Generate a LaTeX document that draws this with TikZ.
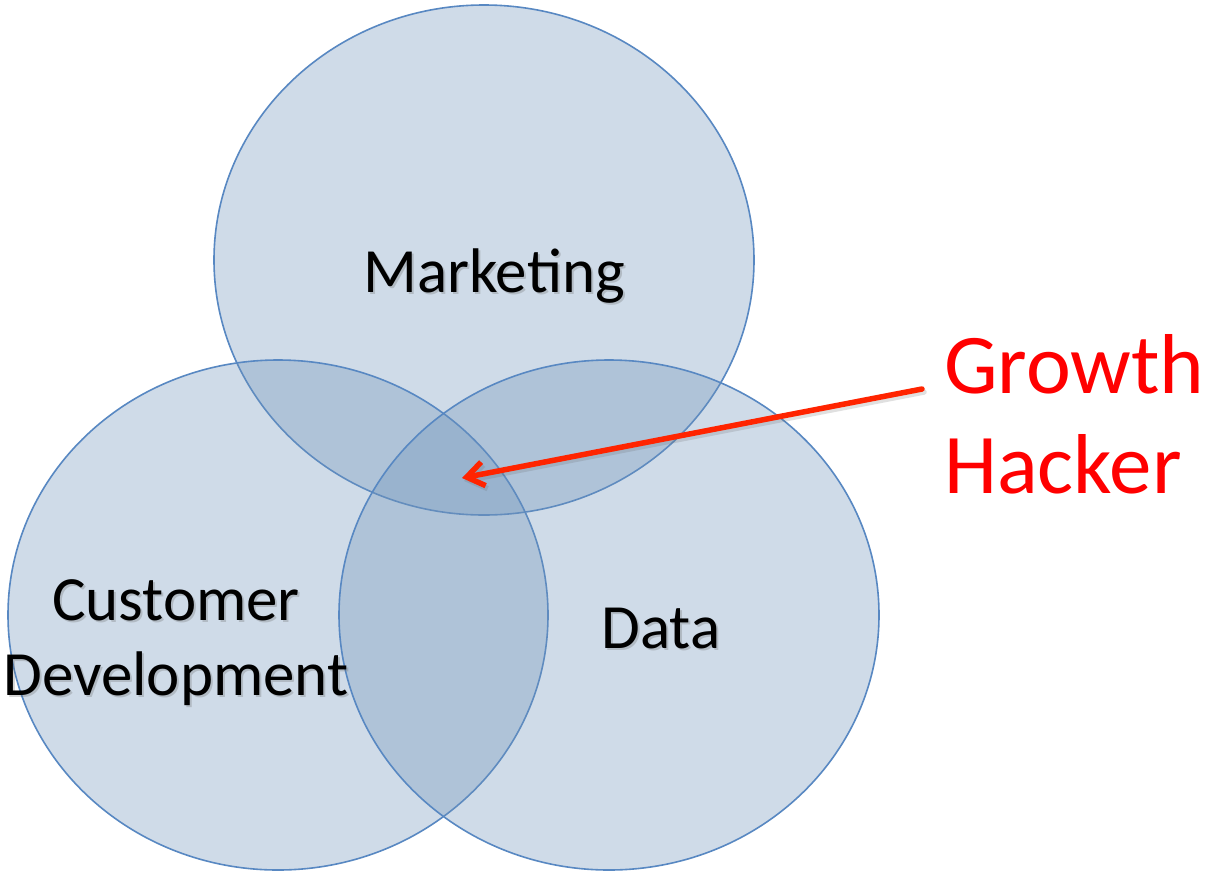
\documentclass[tikz,border=0pt]{standalone}
\usepackage{fontspec}
\setmainfont{Carlito}
\usetikzlibrary{shapes.geometric,arrows.meta}
\definecolor{vfill}{RGB}{111,148,186}
\definecolor{vline}{RGB}{88,136,194}
\definecolor{arrowred}{RGB}{255,36,0}
\definecolor{txtred}{RGB}{255,0,0}
\tikzset{
  venn/.style={ellipse, minimum width=540pt, minimum height=510pt, inner sep=0pt,
    draw=vline, line width=1.6pt, fill=vfill, fill opacity=0.33, draw opacity=1},
  lbl/.style={font=\fontsize{63}{75}\selectfont, align=center, anchor=base, inner sep=0pt, text=black},
  lblshadow/.style={lbl, text=black!60, text opacity=0.28},
  red lbl/.style={font=\fontsize{85}{100}\selectfont, align=left, anchor=base west, inner sep=0pt, text=txtred},
  pointer/.style={draw=arrowred, line width=5.5pt, line cap=round, -{Straight Barb[length=17pt,width=24pt,line width=5.5pt]}}
}
\begin{document}
\begin{tikzpicture}[x=1pt,y=-1pt]
\useasboundingbox (0,0) rectangle (1210,871);
\fill[white] (0,0) rectangle (1210,871);
% circles
\node[venn] (mkt) at (484,260) {};
\node[venn] (cust) at (278,615) {};
\node[venn] (data) at (609,615) {};
% label shadows
\node[lblshadow] at (496,294.5) {Marketing};
\node[lblshadow] at (178,697.5) {Customer\\Development};
\node[lblshadow] at (663,650.5) {Data};
% labels
\node[lbl] (mktlbl) at (494,292) {Marketing};
\node[lbl] (custlbl) at (176,695) {Customer\\Development};
\node[lbl] (datalbl) at (661,648) {Data};
% growth hacker
\node[red lbl] (gh) at (944,493) {Growth\\Hacker};
\coordinate (ptrstart) at (922,389);
\coordinate (ptrtip) at (462,478);
\draw[pointer, draw opacity=0.2, draw=black!60] ([shift={(2,3)}]ptrstart) -- ([shift={(2,3)}]ptrtip);
\draw[pointer] (ptrstart) -- (ptrtip);
\end{tikzpicture}
\end{document}
